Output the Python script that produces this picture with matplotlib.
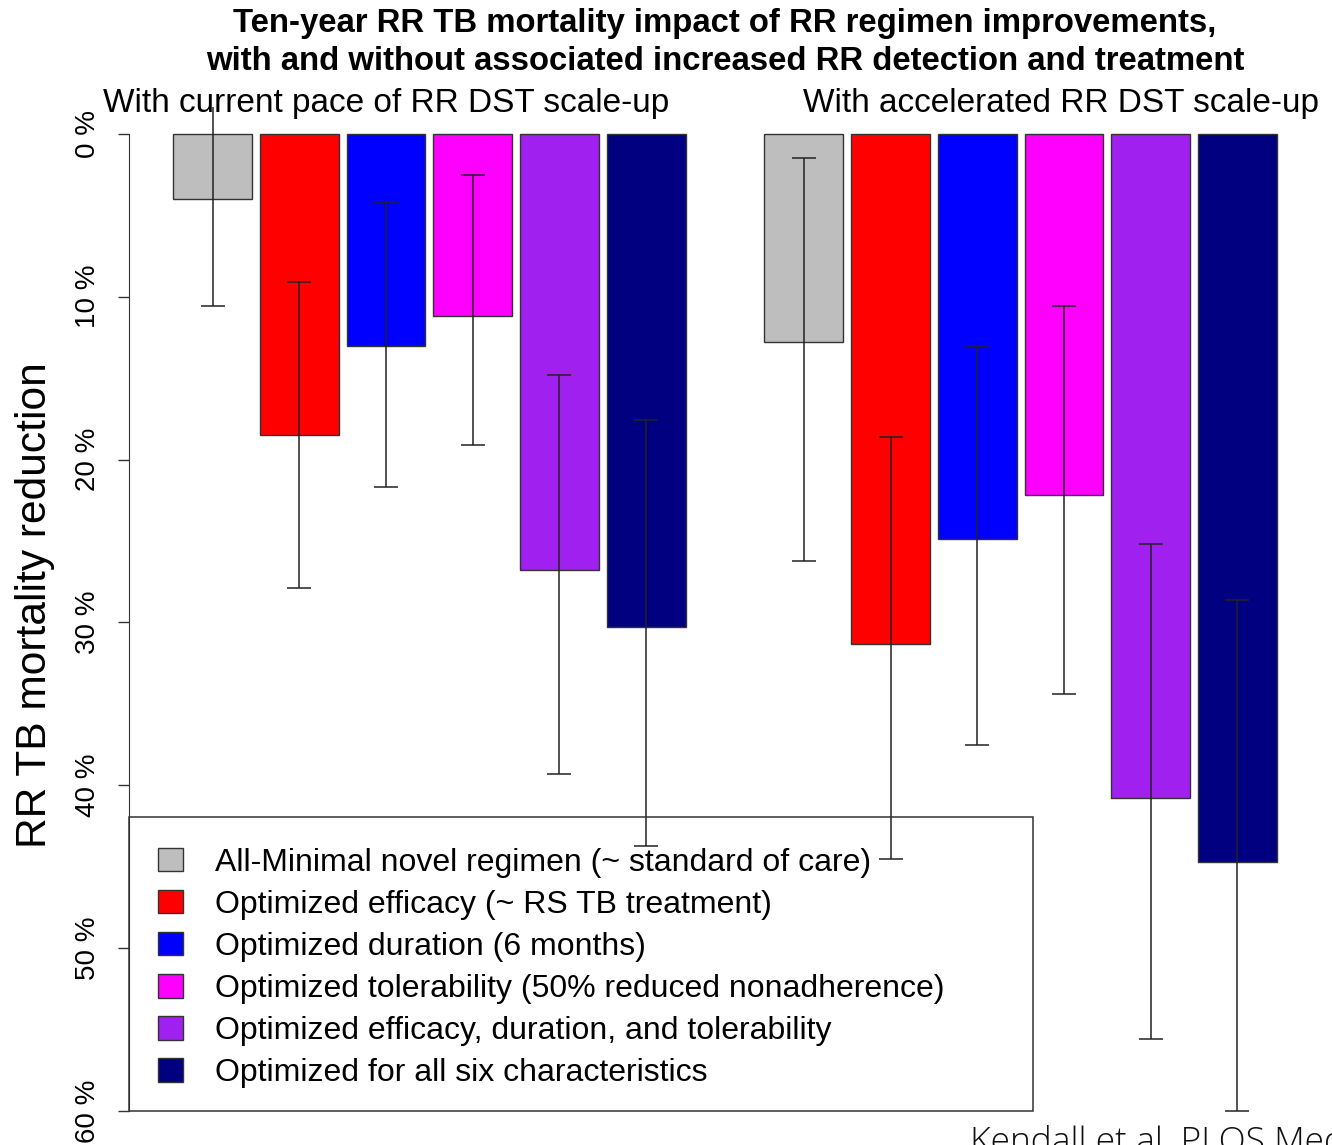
import matplotlib
matplotlib.use("Agg")
import matplotlib.pyplot as plt
from matplotlib.patches import Patch, Rectangle

plt.rcParams['font.family'] = ['Liberation Sans', 'DejaVu Sans']

groups = ['With current pace of RR DST scale-up', 'With accelerated RR DST scale-up']
regimens = ['All-Minimal novel regimen (~ standard of care)',
            'Optimized efficacy (~ RS TB treatment)',
            'Optimized duration (6 months)',
            'Optimized tolerability (50% reduced nonadherence)',
            'Optimized efficacy, duration, and tolerability',
            'Optimized for all six characteristics']
colors = ['#BEBEBE', '#FF0000', '#0000FF', '#FF00FF', '#A020F0', '#000080']

# % reduction in RR TB mortality, with uncertainty interval bounds
current_mean = [4.0, 18.5, 13.0, 11.2, 26.8, 30.3]
current_lo = [-1.9, 9.1, 4.2, 2.5, 14.8, 17.6]
current_hi = [10.6, 27.9, 21.7, 19.1, 39.3, 43.7]
accel_mean = [12.8, 31.3, 24.9, 22.2, 40.8, 44.7]
accel_lo = [1.5, 18.6, 13.0, 10.6, 25.2, 28.6]
accel_hi = [26.2, 44.5, 37.5, 34.4, 55.6, 60.0]

yticks = [0, 10, 20, 30, 40, 50, 60]
ytick_labels = [str(v) + ' %' for v in yticks]

W, H = 1332, 1145
fig = plt.figure(figsize=(W / 100, H / 100), dpi=100)
ax = fig.add_axes([129 / W, 34 / H, 1192 / W, 1004 / H])

series = [(current_mean, current_lo, current_hi), (accel_mean, accel_lo, accel_hi)]
for g, (mean, lo, hi) in enumerate(series):
    start = 1.0 + 7.5 * g
    lefts = [start + 1.1 * i for i in range(len(mean))]
    centers = [l + 0.5 for l in lefts]
    ax.bar(lefts, mean, width=1.0, align='edge', color=colors,
           edgecolor='#333333', linewidth=1.0, zorder=2)
    err = [[m - l for m, l in zip(mean, lo)], [h - m for m, h in zip(mean, hi)]]
    ax.errorbar(centers, mean, yerr=err, fmt='none', ecolor='#222222',
                elinewidth=1.1, capsize=8.6, capthick=1.1, zorder=3)

ax.set_xlim(0.44, 15.56)
ax.set_ylim(60, -1.65)
for s in ['top', 'right', 'bottom']:
    ax.spines[s].set_visible(False)
ax.spines['left'].set_bounds(0, 60)
ax.spines['left'].set_color('#333333')
ax.set_xticks([])
ax.set_yticks(yticks)
ax.set_yticklabels(ytick_labels, rotation=90, va='center', fontsize=20)
ax.tick_params(axis='y', length=8, width=1.0, color='#333333', pad=12)

# legend box drawn separately so the rows can sit where the original has them
box_w = (1033 - 129) / 1192
box_h = (1111 - 817) / 1004
ax.add_patch(Rectangle((0, 0), box_w, box_h, transform=ax.transAxes, fill=False,
                       edgecolor='#333333', linewidth=1.1, clip_on=False, zorder=4))
handles = [Patch(facecolor=c, edgecolor='#333333', linewidth=1.0) for c in colors]
leg = ax.legend(handles, regimens, loc='lower left',
                bbox_to_anchor=(0, -6 / 1004, box_w, 1), mode='expand',
                borderaxespad=0, frameon=False, fontsize=23,
                handlelength=0.8, handleheight=0.75, handletextpad=1.0,
                borderpad=0.9, labelspacing=0.38)

fig.text(725 / W, 1 - 32 / H, 'Ten-year RR TB mortality impact of RR regimen improvements,',
         ha='center', va='baseline', fontsize=23.7, fontweight='bold')
fig.text(725 / W, 1 - 70 / H, 'with and without associated increased RR detection and treatment',
         ha='center', va='baseline', fontsize=23.7, fontweight='bold')
fig.text(103 / W, 1 - 112 / H, groups[0], ha='left', va='baseline', fontsize=24)
fig.text(803 / W, 1 - 112 / H, groups[1], ha='left', va='baseline', fontsize=24)
fig.text(35 / W, 1 - 605 / H, 'RR TB mortality reduction', rotation=90,
         ha='center', va='center', fontsize=30.6)
fig.text(970 / W, 1 - 1152 / H, 'Kendall et al. PLOS Medicine', ha='left', va='baseline',
         fontsize=25.5, family='Open Sans', fontweight='light', color='#111111')

fig.savefig('out.png', dpi=100)
